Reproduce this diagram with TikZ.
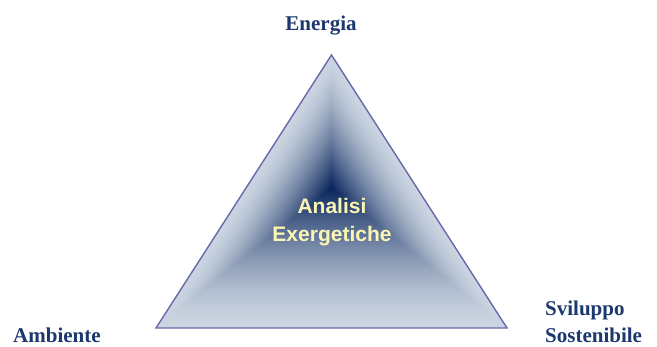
\documentclass[tikz,border=0pt]{standalone}
\usepackage{fontspec}
\setmainfont{Liberation Serif}
\newfontfamily\sansfont{Liberation Sans}
\usetikzlibrary{calc}
\definecolor{edgelight}{RGB}{204,214,226}
\definecolor{coredark}{RGB}{8,36,92}
\definecolor{rimline}{RGB}{104,104,168}
\definecolor{labelblue}{RGB}{28,56,110}
\definecolor{paleyellow}{RGB}{250,246,180}
\begin{document}
\begin{tikzpicture}[x=1pt,y=1pt,
  cornerlabel/.style={font=\bfseries\fontsize{21}{26}\selectfont, text=labelblue, inner sep=0pt},
  centrelabel/.style={font=\sansfont\bfseries\fontsize{21}{28}\selectfont, text=paleyellow, align=center, inner sep=0pt},
  rim/.style={draw=rimline, line width=1.4pt, line join=miter}]
\useasboundingbox (0,0) rectangle (657,347);
\fill[white] (0,0) rectangle (657,347);
\coordinate (A) at (331.5,292);
\coordinate (L) at (156,19);
\coordinate (R) at (507,19);
\coordinate (C) at (331.5,159);
\foreach \i in {0,...,120}{
  \pgfmathsetmacro{\s}{1-\i/120}
  \pgfmathsetmacro{\p}{100*(\i/120)^1.5}
  \colorlet{stepcol}{coredark!\p!edgelight}
  \fill[stepcol] ($(C)!\s!(A)$) -- ($(C)!\s!(L)$) -- ($(C)!\s!(R)$) -- cycle;
}
\draw[rim] (A) -- (L) -- (R) -- cycle;
\node[centrelabel] (core) at (332,125) {Analisi\\Exergetiche};
\node[cornerlabel, anchor=base] (energia) at (321,316) {Energia};
\node[cornerlabel, anchor=base west] (ambiente) at (13,4) {Ambiente};
\node[cornerlabel, anchor=base west] (sviluppo) at (545,31) {Sviluppo};
\node[cornerlabel, anchor=base west] (sostenibile) at (545,4) {Sostenibile};
\end{tikzpicture}
\end{document}
